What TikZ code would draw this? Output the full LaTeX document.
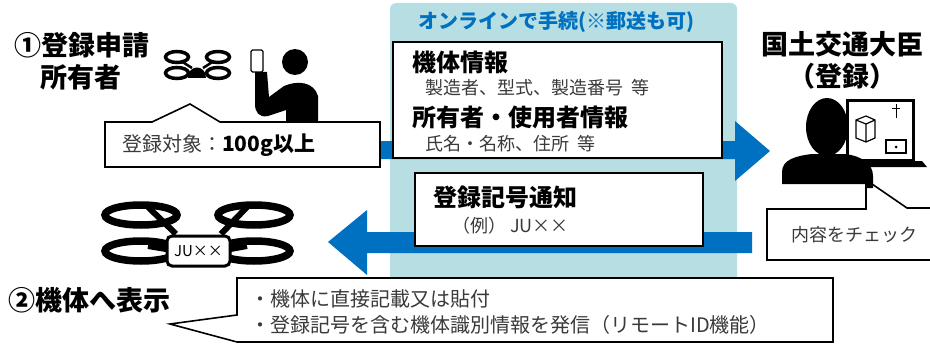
\documentclass[tikz,border=0pt]{standalone}
\usepackage{fontspec}
\setmainfont{Noto Sans CJK JP}
\definecolor{flowblue}{HTML}{0070C0}
\definecolor{panel}{HTML}{B7DEE3}
\definecolor{note}{HTML}{3A3A3A}
\begin{document}
\begin{tikzpicture}[x=1pt,y=-1pt,
  outline/.style={draw=black,line width=1.6pt},
  title/.style={font=\bfseries\fontsize{27}{29}\selectfont,inner sep=0},
  item/.style={font=\bfseries\fontsize{24}{26}\selectfont,inner sep=0,anchor=west},
  detail/.style={font=\fontsize{18}{20}\selectfont,text=note,inner sep=0,anchor=west},
  bullet/.style={font=\fontsize{20}{22}\selectfont,text=note,inner sep=0,anchor=west},
  rotor/.style={draw=black,line width=#1}]
\useasboundingbox (0,0) rectangle (930,345);

% online panel and its caption
\fill[panel,rounded corners=6pt] (390,3) rectangle (737,300);
\node[font=\bfseries\fontsize{20}{22}\selectfont,text=flowblue,inner sep=0] (online) at (556,22) {オンラインで手続(※郵送も可)};

% application arrow to the ministry
\fill[flowblue] (300,141) -- (735,141) -- (735,121) -- (770,151) -- (735,181) -- (735,159) -- (300,159) -- cycle;
% notice arrow back to the owner
\fill[flowblue] (752,232) -- (367,232) -- (367,210) -- (328,242) -- (367,275) -- (367,253) -- (752,253) -- cycle;

% submitted information
\fill[fill=white,outline] (393,42) rectangle (722,158);
\node[item] (body) at (412,62) {機体情報};
\node[detail] (bodyinfo) at (425,88) {製造者、型式、製造番号\ \ 等};
\node[item] (owner) at (412,117) {所有者・使用者情報};
\node[detail] (ownerinfo) at (425,144) {氏名・名称、住所\ \ 等};

% returned registration mark
\fill[fill=white,outline] (415,173) rectangle (703,246);
\node[item] (mark) at (433,197) {登録記号通知};
\node[detail] (markinfo) at (452,226) {（例）\ JU××};

% labels of the two sides
\node[title,anchor=west] (apply) at (14,45) {①登録申請};
\node[title,anchor=west] (holder) at (40,77) {所有者};
\node[title] (minister) at (842,44) {国土交通大臣};
\node[title] (reg) at (842,76) {（登録）};
\node[title,anchor=west] (show) at (8,300) {②機体へ表示};

% callout: what must be registered
\fill[fill=white,outline] (105,122) -- (152,122) -- (190,104) -- (220,122) -- (380,122) -- (380,167) -- (105,167) -- cycle;
\node[font=\fontsize{20}{22}\selectfont,text=note,inner sep=0,anchor=west] (target) at (122,145) {登録対象：\textbf{\textcolor{black}{\fontsize{21}{23}\selectfont 100g以上}}};

% callout: check by the ministry
\fill[fill=white,outline] (767,209) -- (866,209) -- (866,184) -- (872,184) -- (907,208) -- (940,208) -- (940,260) -- (767,260) -- cycle;
\node[detail] (check) at (791,235) {内容をチェック};

% callout: how the mark is shown
\fill[fill=white,outline] (237,278) -- (833,278) -- (833,342) -- (237,342) -- (170,324) -- (237,315) -- cycle;
\node[bullet] (direct) at (250,299) {・機体に直接記載又は貼付};
\node[bullet] (remote) at (250,325) {・登録記号を含む機体識別情報を発信（リモートID機能）};

% small drone
\foreach \cx in {177,218} \foreach \cy in {57,73}
  \draw[rotor=3.5pt] (\cx,\cy) ellipse (11.5 and 5.5);
\draw[line width=2.5pt] (181,61) -- (192,68) (214,61) -- (203,68);
\fill[black] (188,78) .. controls (188,64) and (206,64) .. (206,78) -- cycle;

% owner with phone
\fill[black] (295,62) circle (13);
\fill[black] (255,72) -- (267,72) -- (269,97) -- (284,86) .. controls (298,80) and (314,82) .. (318,96) -- (318,122) -- (286,122) -- (286,110) -- (268,116) .. controls (259,118) and (255,112) .. (255,104) -- cycle;
\draw[fill=white,line width=1.3pt,rounded corners=1.5pt] (251,50) rectangle (263,72);

% ministry officer with laptop
\draw[line width=3pt] (847,101) rectangle (913,160);
\fill[black] (843,161) -- (922,161) -- (927,167) -- (850,167) -- cycle;
\draw[line width=1.2pt] (856,120) -- (866,116) -- (875,120) -- (875,138) -- (866,142) -- (856,138) -- cycle (856,120) -- (866,124) -- (875,120) (866,124) -- (866,142);
\draw[line width=1pt] (896,104) -- (896,118) (892,109) -- (900,109);
\draw[line width=1.2pt] (886,140) rectangle (906,153);
\fill[black] (896,147) circle (1.5);
\fill[black] (827,127) ellipse (21 and 29);
\fill[black] (782,184) -- (782,172) .. controls (782,160) and (795,156) .. (812,154) -- (845,154) .. controls (862,156) and (873,164) .. (873,176) -- (873,188) -- (866,188) -- (866,184) -- cycle;

% large drone with its mark
\foreach \cx in {141,254} \foreach \cy in {215,251}
  \draw[rotor=7.5pt] (\cx,\cy) ellipse (36 and 10);
\draw[line width=6pt] (148,207) -- (176,234) (247,207) -- (221,234) (148,246) -- (172,250) (247,246) -- (225,250);
\draw[fill=white,line width=3pt,rounded corners=5pt] (167,236) rectangle (230,266);
\node[font=\fontsize{15}{17}\selectfont,inner sep=0] (plate) at (198.5,251) {JU××};
\end{tikzpicture}
\end{document}
